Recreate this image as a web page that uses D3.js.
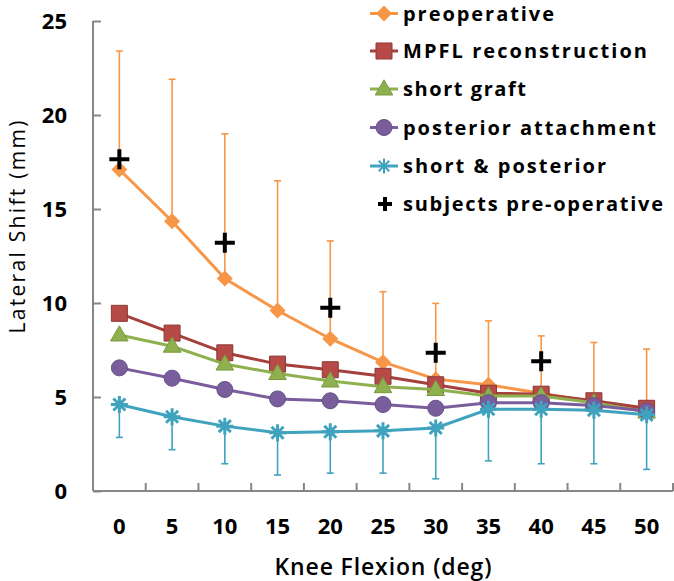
<!DOCTYPE html>
<html><head><meta charset="utf-8">
<script src="https://cdn.jsdelivr.net/npm/d3@7"></script>
<style>body{margin:0;background:#fff}svg{display:block}</style>
</head><body>
<script>
const flexion = [0,5,10,15,20,25,30,35,40,45,50];
const yTicks = [0,5,10,15,20,25];
const preoperative = [17.1,14.35,11.3,9.6,8.1,6.85,5.95,5.65,5.2,4.75,4.35];
const preoperativeUpper = [23.4,21.9,19.0,16.5,13.3,10.6,9.98,9.05,8.25,7.9,7.55];
const mpfl = [9.45,8.4,7.35,6.75,6.45,6.1,5.65,5.2,5.15,4.8,4.4];
const shortGraft = [8.3,7.7,6.75,6.25,5.85,5.55,5.4,5.05,5.05,4.7,4.2];
const posterior = [6.55,6.0,5.4,4.9,4.8,4.6,4.4,4.7,4.7,4.55,4.25];
const shortPosterior = [4.6,3.95,3.45,3.1,3.15,3.2,3.35,4.35,4.35,4.3,4.05];
const shortPosteriorLower = [2.85,2.2,1.45,0.85,0.95,0.95,0.65,1.6,1.45,1.45,1.15];
const subjectFlexion = [0,10,20,30,40];
const subjects = [17.65,13.2,9.75,7.35,6.9];
const legendLabels = ["preoperative","MPFL reconstruction","short graft","posterior attachment","short & posterior","subjects pre-operative"];

const W=674,H=581;
const svg=d3.select("body").append("svg").attr("width",W).attr("height",H);
const x=d3.scaleBand().domain(flexion).range([93,673]);
const y=d3.scaleLinear().domain([0,25]).range([491,21]);
const cx=d=>x(d)+x.bandwidth()/2;
const FONT="'Open Sans', Lato, sans-serif";
const axisCol="#868686";

function fitWidth(sel,target){
  const n=sel.node(); const len=n.getComputedTextLength();
  if(Math.abs(len-target)>2) sel.attr("textLength",target).attr("lengthAdjust","spacing");
}

// axes
const gy=svg.append("g").attr("transform","translate(93,0)")
  .call(d3.axisRight(y).tickValues(yTicks).tickSize(8).tickFormat(d3.format("d")));
gy.select(".domain").attr("stroke",axisCol).attr("stroke-width",2).attr("d","M0,21V491");
gy.selectAll(".tick line").attr("stroke",axisCol).attr("stroke-width",2);
gy.selectAll(".tick text").attr("x",-26).attr("text-anchor","end")
  .style("font-family",FONT).style("font-weight","bold").style("font-size","22px").attr("fill","#000");

const xEdges = flexion.map(d=>x(d)).concat([x.range()[1]]);
const gx=svg.append("g").attr("transform","translate(0,491)")
  .call(d3.axisBottom(x).tickSize(0).tickFormat(d=>d));
gx.select(".domain").attr("stroke",axisCol).attr("stroke-width",2).attr("d","M93,0H673");
gx.selectAll(".tick text").attr("y",27).attr("dy","0.71em")
  .style("font-family",FONT).style("font-weight","bold").style("font-size","22px").attr("fill","#000");
svg.append("g").selectAll("line").data(xEdges.slice(1)).join("line")
  .attr("x1",d=>d).attr("x2",d=>d).attr("y1",491).attr("y2",483)
  .attr("stroke",axisCol).attr("stroke-width",2);

const xt=svg.append("text").attr("x",383).attr("y",575).attr("text-anchor","middle")
  .style("font-family",FONT).style("font-weight","600").style("font-size","23px").text("Knee Flexion (deg)");
fitWidth(xt,217);
const yt=svg.append("text").attr("transform","translate(25,227) rotate(-90)").attr("text-anchor","middle")
  .style("font-family",FONT).style("font-size","21px").text("Lateral Shift (mm)");
fitWidth(yt,213);

// marker path builders
const M = {
  diamond:s=>`M0,${-s}L${s},0L0,${s}L${-s},0Z`,
  square:s=>`M${-s},${-s}H${s}V${s}H${-s}Z`,
  triangle:s=>`M0,${-s*1.15}L${s*1.1},${s*0.75}L${-s*1.1},${s*0.75}Z`,
  circle:s=>d3.arc()({innerRadius:0,outerRadius:s,startAngle:0,endAngle:2*Math.PI}),
  star:s=>{let p="";for(let i=0;i<4;i++){const a=i*Math.PI/4;p+=`M${-s*Math.cos(a)},${-s*Math.sin(a)}L${s*Math.cos(a)},${s*Math.sin(a)}`;}return p;},
  plus:s=>`M${-s},0H${s}M0,${-s}V${s}`
};

const series=[
  {name:legendLabels[0],vals:preoperative,line:"#F79646",fill:"#F79646",stroke:"none",shape:"diamond",size:8},
  {name:legendLabels[1],vals:mpfl,line:"#A5403D",fill:"#B64A47",stroke:"#8C3836",shape:"square",size:8},
  {name:legendLabels[2],vals:shortGraft,line:"#8FB04E",fill:"#8FB04E",stroke:"#7A9A3E",shape:"triangle",size:8},
  {name:legendLabels[3],vals:posterior,line:"#7A5E9C",fill:"#7A5E9C",stroke:"#65508A",shape:"circle",size:8},
  {name:legendLabels[4],vals:shortPosterior,line:"#3FA3BE",fill:"none",stroke:"#3FA3BE",shape:"star",size:8.5}
];

const line=d3.line().x(d=>cx(d[0])).y(d=>y(d[1]));

function errorBars(g,vals,ends,col){
  flexion.forEach((f,i)=>{
    g.append("line").attr("x1",cx(f)).attr("x2",cx(f)).attr("y1",y(vals[i])).attr("y2",y(ends[i]))
      .attr("stroke",col).attr("stroke-width",1.6);
    g.append("line").attr("x1",cx(f)-3.5).attr("x2",cx(f)+3.5).attr("y1",y(ends[i])).attr("y2",y(ends[i]))
      .attr("stroke",col).attr("stroke-width",1.6);
  });
}

series.forEach((s,si)=>{
  const g=svg.append("g");
  if(si===0) errorBars(g,preoperative,preoperativeUpper,"#F79646");
  if(si===4) errorBars(g,shortPosterior,shortPosteriorLower,"#3FA3BE");
  g.append("path").datum(flexion.map((f,i)=>[f,s.vals[i]])).attr("d",line)
    .attr("fill","none").attr("stroke",s.line).attr("stroke-width",3);
  g.selectAll("path.m").data(flexion.map((f,i)=>[f,s.vals[i]])).join("path").attr("class","m")
    .attr("transform",d=>`translate(${cx(d[0])},${y(d[1])})`)
    .attr("d",M[s.shape](s.size)).attr("fill",s.fill)
    .attr("stroke",s.stroke).attr("stroke-width",s.shape==="star"?3:1);
});

// subjects
svg.append("g").selectAll("path").data(subjectFlexion.map((f,i)=>[f,subjects[i]])).join("path")
  .attr("transform",d=>`translate(${cx(d[0])},${y(d[1])})`)
  .attr("d",M.plus(10)).attr("stroke","#000").attr("stroke-width",4).attr("fill","none");

// legend
const lg=svg.append("g");
const rows=[13.5,51,89,127.5,166,204];
const legendWidths=[151,244,123,253,203,260];
legendLabels.forEach((lab,i)=>{
  const yy=rows[i];
  if(i<5){
    const s=series[i];
    lg.append("line").attr("x1",370).attr("x2",398).attr("y1",yy).attr("y2",yy).attr("stroke",s.line).attr("stroke-width",3);
    lg.append("path").attr("transform",`translate(384,${yy})`).attr("d",M[s.shape](s.shape==="star"?7.5:s.size))
      .attr("fill",s.fill).attr("stroke",s.stroke).attr("stroke-width",s.shape==="star"?2:1);
  } else {
    lg.append("path").attr("transform",`translate(385,${yy})`).attr("d",M.plus(7)).attr("stroke","#000").attr("stroke-width",4);
  }
  const t=lg.append("text").attr("x",403).attr("y",yy).attr("dy","0.36em")
    .style("font-family",FONT).style("font-weight","bold").style("font-size","20px").text(lab);
  fitWidth(t,legendWidths[i]);
});
</script>
</body></html>
